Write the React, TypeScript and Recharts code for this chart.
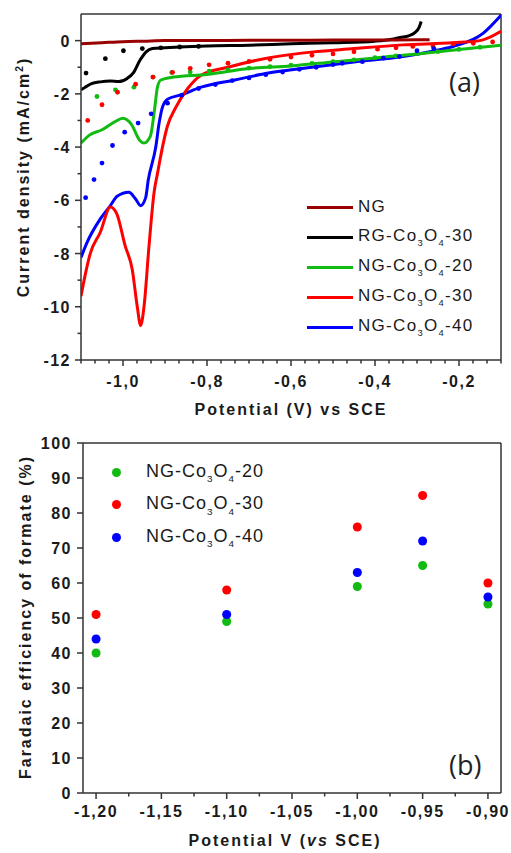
import React from "react";
import {
  ComposedChart,
  ScatterChart,
  Line,
  Scatter,
  XAxis,
  YAxis,
  ReferenceLine
} from "recharts";

// ---------- panel (a): current density vs potential ----------
const ngX = [-1.1, -1.05, -1.0, -0.95, -0.9, -0.8, -0.7, -0.6, -0.5, -0.4, -0.3, -0.27];
const ngY = [-0.12, -0.08, -0.04, -0.02, 0, 0, 0.01, 0.01, 0.02, 0.02, 0.03, 0.03];

const rgX = [-1.1, -1.09, -1.075, -1.054, -1.03, -1.01, -0.99, -0.975, -0.96, -0.945, -0.93, -0.9, -0.8, -0.7, -0.6, -0.5, -0.4, -0.36, -0.34, -0.32, -0.305, -0.295, -0.29];
const rgY = [-1.85, -1.75, -1.62, -1.55, -1.52, -1.54, -1.42, -1.2, -0.75, -0.42, -0.3, -0.27, -0.2, -0.17, -0.12, -0.08, -0.02, 0.05, 0.12, 0.18, 0.3, 0.5, 0.72];
const rgDotX = [-1.088, -1.042, -0.999, -0.954, -0.91, -0.865, -0.82];
const rgDotY = [-1.22, -0.68, -0.38, -0.3, -0.27, -0.24, -0.22];

const g20X = [-1.1, -1.08, -1.05, -1.02, -1.0, -0.98, -0.96, -0.95, -0.935, -0.925, -0.918, -0.91, -0.88, -0.8, -0.7, -0.6, -0.5, -0.4, -0.3, -0.2, -0.1];
const g20Y = [-3.85, -3.55, -3.35, -3.05, -2.92, -3.15, -3.75, -3.85, -3.6, -2.6, -1.75, -1.48, -1.37, -1.27, -1.05, -0.95, -0.8, -0.65, -0.5, -0.33, -0.17];
const g20DotX = [-1.062, -1.018, -0.974, -0.928, -0.884, -0.84, -0.795, -0.75, -0.7, -0.65, -0.6, -0.55, -0.5, -0.45, -0.4, -0.35, -0.3, -0.25, -0.2, -0.15];
const g20DotY = [-2.1, -1.85, -1.75, -1.37, -1.2, -1.18, -1.15, -1.1, -1.03, -0.98, -0.92, -0.86, -0.79, -0.72, -0.64, -0.57, -0.49, -0.41, -0.33, -0.25];

const g30X = [-1.1, -1.09, -1.078, -1.054, -1.03, -1.015, -0.995, -0.978, -0.966, -0.958, -0.95, -0.938, -0.926, -0.918, -0.906, -0.894, -0.874, -0.846, -0.814, -0.75, -0.67, -0.574, -0.45, -0.334, -0.214, -0.15, -0.1];
const g30Y = [-9.6, -8.8, -8.0, -7.2, -6.25, -6.5, -7.7, -8.6, -10.0, -10.7, -10.0, -7.7, -5.7, -5.0, -4.0, -3.2, -2.5, -1.8, -1.3, -1.0, -0.7, -0.47, -0.3, -0.16, -0.08, 0.0, 0.35];
const g30DotX = [-1.084, -1.05, -1.013, -0.97, -0.929, -0.882, -0.84, -0.795, -0.75, -0.7, -0.65, -0.6, -0.55, -0.5, -0.45, -0.394, -0.35, -0.31, -0.262, -0.214, -0.166, -0.12];
const g30DotY = [-3.0, -2.41, -1.94, -1.64, -1.37, -1.19, -1.04, -0.91, -0.85, -0.78, -0.7, -0.62, -0.55, -0.5, -0.42, -0.32, -0.27, -0.22, -0.2, -0.12, -0.1, -0.05];

const g40X = [-1.1, -1.086, -1.054, -1.03, -1.014, -0.986, -0.97, -0.958, -0.946, -0.94, -0.922, -0.914, -0.906, -0.894, -0.862, -0.814, -0.734, -0.654, -0.574, -0.45, -0.334, -0.25, -0.214, -0.142, -0.1];
const g40Y = [-8.15, -7.6, -6.7, -6.2, -5.85, -5.7, -5.95, -6.2, -5.9, -5.25, -4.0, -3.1, -2.5, -2.2, -2.04, -1.75, -1.48, -1.22, -1.05, -0.8, -0.6, -0.35, -0.22, 0.28, 0.95];
const g40DotX = [-1.089, -1.069, -1.05, -1.025, -0.996, -0.964, -0.933, -0.894, -0.86, -0.82, -0.78, -0.74, -0.7, -0.66, -0.62, -0.58, -0.54, -0.5, -0.478, -0.43, -0.38, -0.342, -0.3, -0.26];
const g40DotY = [-5.9, -5.22, -4.6, -3.94, -3.44, -3.1, -2.75, -2.35, -2.05, -1.8, -1.65, -1.5, -1.4, -1.28, -1.18, -1.08, -1.0, -0.9, -0.85, -0.79, -0.66, -0.6, -0.38, -0.3];

const aXMajor = [-1.0, -0.8, -0.6, -0.4, -0.2];
const aYMajor = [-12, -10, -8, -6, -4, -2, 0];
const aYMinor = [-11, -9, -7, -5, -3, -1];

// ---------- panel (b): faradaic efficiency ----------
const potentials = [-1.2, -1.1, -1.0, -0.95, -0.9];
const fe20 = [40, 49, 59, 65, 54];
const fe30 = [51, 58, 76, 85, 60];
const fe40 = [44, 51, 63, 72, 56];
const bXMajor = [-1.2, -1.15, -1.1, -1.05, -1.0, -0.95, -0.9];
const bYMajor = [0, 10, 20, 30, 40, 50, 60, 70, 80, 90, 100];

const C_NG = "#990000";
const C_RG = "#000000";
const C_20 = "#11bb11";
const C_30 = "#ff0000";
const C_40 = "#0000ff";
const AXIS = "#333";

const pts = (xs: number[], ys: number[]) => xs.map((x, i) => ({ x, y: ys[i] }));

// minor ticks: 5 between every 0.2 V on panel (a)
const aXTicks: number[] = [];
for (let k = 0; k <= 30; k++) aXTicks.push(+(-1.1 + k / 30).toFixed(4));
const bXTicks: number[] = [];
for (let k = 0; k <= 12; k++) bXTicks.push(+(-1.2 + k * 0.025).toFixed(4));

const TICK_FONT = "'Liberation Sans', Arial, sans-serif";
const TS = 6;

const isIn = (arr: number[], v: number) => arr.some((m) => Math.abs(m - v) < 1e-6);

const xTick = (majors: number[], digits: number, gap: number) => (props: any) => {
  const { x, y, payload } = props;
  const ay = y - TS;
  const major = isIn(majors, payload.value);
  return (
    <g>
      <line x1={x} x2={x} y1={ay} y2={ay + (major ? 6 : 3.5)} stroke={AXIS} strokeWidth={1.5} />
      {major && (
        <text x={x} y={ay + gap} textAnchor="middle" fontFamily={TICK_FONT} fontWeight="bold" fontSize={16} letterSpacing={1.5} fill="#1a1a1a">
          {payload.value.toFixed(digits).replace(".", ",")}
        </text>
      )}
    </g>
  );
};

const yTick = (majors: number[], gap: number) => (props: any) => {
  const { x, y, payload } = props;
  const ax = x + TS;
  const major = isIn(majors, payload.value);
  return (
    <g>
      <line x1={ax} x2={ax - (major ? 6 : 3.5)} y1={y} y2={y} stroke={AXIS} strokeWidth={1.5} />
      {major && (
        <text x={ax - gap} y={y + 6} textAnchor="end" fontFamily={TICK_FONT} fontWeight="bold" fontSize={16} letterSpacing={1.5} fill="#1a1a1a">
          {String(payload.value)}
        </text>
      )}
    </g>
  );
};

const Formula = ({ name }: { name: string }) => (
  <>
    {name.split(/(Co3|O4)/).map((part, i) =>
      part === "Co3" || part === "O4" ? (
        <React.Fragment key={i}>
          {part.slice(0, -1)}
          <span style={{ fontSize: "0.55em", position: "relative", top: "0.55em" }}>{part.slice(-1)}</span>
        </React.Fragment>
      ) : (
        <React.Fragment key={i}>{part}</React.Fragment>
      )
    )}
  </>
);

const legendA = [
  { name: "NG", color: C_NG },
  { name: "RG-Co3O4-30", color: C_RG },
  { name: "NG-Co3O4-20", color: C_20 },
  { name: "NG-Co3O4-30", color: C_30 },
  { name: "NG-Co3O4-40", color: C_40 }
];
const legendB = [
  { name: "NG-Co3O4-20", color: C_20 },
  { name: "NG-Co3O4-30", color: C_30 },
  { name: "NG-Co3O4-40", color: C_40 }
];

const titleStyle: React.CSSProperties = {
  position: "absolute",
  fontFamily: TICK_FONT,
  fontWeight: "bold",
  fontSize: 16,
  letterSpacing: 2,
  color: "#1a1a1a",
  whiteSpace: "nowrap",
  lineHeight: "20px"
};

const App = () => {
  const lineProps = { type: "monotone" as const, dataKey: "y", dot: false, strokeWidth: 3, isAnimationActive: false };
  const dotProps = (c: string) => ({
    type: "linear" as const,
    dataKey: "y",
    stroke: "none",
    dot: { r: 2.4, fill: c, stroke: "none" },
    activeDot: false,
    isAnimationActive: false
  });
  return (
    <div style={{ position: "absolute", left: 0, top: 0, width: 511, height: 853, background: "#fff", overflow: "hidden" }}>
      <ComposedChart width={511} height={420} margin={{ top: 14, right: 10, left: 0, bottom: 0 }}>
        <XAxis
          dataKey="x"
          type="number"
          domain={[-1.1, -0.1]}
          ticks={aXTicks}
          interval={0}
          height={60}
          tickSize={TS}
          tickMargin={0}
          tickLine={false}
          tick={xTick(aXMajor, 1, 27)}
          axisLine={{ stroke: AXIS, strokeWidth: 1.5 }}
          allowDataOverflow
        />
        <YAxis
          type="number"
          domain={[-12, 1]}
          ticks={[...aYMajor, ...aYMinor].sort((a, b) => a - b)}
          interval={0}
          width={81}
          tickSize={TS}
          tickMargin={0}
          tickLine={false}
          tick={yTick(aYMajor, 10)}
          axisLine={{ stroke: AXIS, strokeWidth: 1.5 }}
          allowDataOverflow
        />
        <ReferenceLine x={-0.1} stroke={AXIS} strokeWidth={1.5} />
        <ReferenceLine y={1} stroke={AXIS} strokeWidth={1.5} />
        <Line data={pts(rgDotX, rgDotY)} {...dotProps(C_RG)} />
        <Line data={pts(g20DotX, g20DotY)} {...dotProps(C_20)} />
        <Line data={pts(g30DotX, g30DotY)} {...dotProps(C_30)} />
        <Line data={pts(g40DotX, g40DotY)} {...dotProps(C_40)} />
        <Line data={pts(g40X, g40Y)} stroke={C_40} {...lineProps} />
        <Line data={pts(g30X, g30Y)} stroke={C_30} {...lineProps} />
        <Line data={pts(g20X, g20Y)} stroke={C_20} {...lineProps} />
        <Line data={pts(rgX, rgY)} stroke={C_RG} {...lineProps} />
        <Line data={pts(ngX, ngY)} stroke={C_NG} {...lineProps} />
      </ComposedChart>

      <div style={{ position: "absolute", top: 420, left: 0 }}>
        <ScatterChart width={511} height={433} margin={{ top: 23, right: 10, left: 0, bottom: 0 }}>
          <XAxis
            dataKey="x"
            type="number"
            domain={[-1.21, -0.89]}
            ticks={bXTicks}
            interval={0}
            height={60}
            tickSize={TS}
            tickMargin={0}
            tickLine={false}
            tick={xTick(bXMajor, 2, 24)}
            axisLine={{ stroke: AXIS, strokeWidth: 1.5 }}
          />
          <YAxis
            dataKey="y"
            type="number"
            domain={[0, 100]}
            ticks={bYMajor}
            interval={0}
            width={83}
            tickSize={TS}
            tickMargin={0}
            tickLine={false}
            tick={yTick(bYMajor, 11)}
            axisLine={{ stroke: AXIS, strokeWidth: 1.5 }}
          />
          <ReferenceLine x={-0.89} stroke={AXIS} strokeWidth={1.5} />
          <ReferenceLine y={100} stroke={AXIS} strokeWidth={1.5} />
          <Scatter data={pts(potentials, fe20)} fill={C_20} isAnimationActive={false} />
          <Scatter data={pts(potentials, fe40)} fill={C_40} isAnimationActive={false} />
          <Scatter data={pts(potentials, fe30)} fill={C_30} isAnimationActive={false} />
        </ScatterChart>
      </div>

      {/* axis titles */}
      <div style={{ ...titleStyle, left: 0, width: 582, textAlign: "center", top: 400 }}>Potential (V) vs SCE</div>
      <div style={{ ...titleStyle, left: 0, width: 570, textAlign: "center", top: 831 }}>
        Potential V (<i>vs</i> SCE)
      </div>
      <div style={{ ...titleStyle, left: 25, top: 177, transform: "translate(-50%, -50%) rotate(-90deg)" }}>
        Current density (mA/cm<span style={{ fontSize: "0.65em", position: "relative", top: "-0.55em" }}>2</span>)
      </div>
      <div style={{ ...titleStyle, left: 26, top: 617, transform: "translate(-50%, -50%) rotate(-90deg)" }}>
        Faradaic efficiency of formate (%)
      </div>

      {/* panel labels */}
      <div style={{ position: "absolute", left: 449, top: 64, fontFamily: "'Open Sans', sans-serif", fontSize: 27, lineHeight: "36px", color: "#222" }}>(a)</div>
      <div style={{ position: "absolute", left: 449, top: 747, fontFamily: "'Open Sans', sans-serif", fontSize: 27, lineHeight: "36px", color: "#222" }}>(b)</div>

      {/* legend (a) */}
      <div style={{ position: "absolute", left: 307, top: 192 }}>
        {legendA.map((it) => (
          <div key={it.name} style={{ display: "flex", alignItems: "center", height: 30 }}>
            <div style={{ width: 46, height: 3, background: it.color, marginRight: 5 }} />
            <span style={{ fontFamily: TICK_FONT, fontSize: 17, letterSpacing: 1.3, color: "#1a1a1a", lineHeight: "20px" }}>
              <Formula name={it.name} />
            </span>
          </div>
        ))}
      </div>

      {/* legend (b) */}
      <div style={{ position: "absolute", left: 112, top: 456 }}>
        {legendB.map((it) => (
          <div key={it.name} style={{ display: "flex", alignItems: "center", height: 32.5 }}>
            <div style={{ width: 9, height: 9, borderRadius: "50%", background: it.color, marginRight: 25 }} />
            <span style={{ fontFamily: TICK_FONT, fontSize: 18, letterSpacing: 1, color: "#1a1a1a", lineHeight: "22px" }}>
              <Formula name={it.name} />
            </span>
          </div>
        ))}
      </div>
    </div>
  );
};

export default App;
